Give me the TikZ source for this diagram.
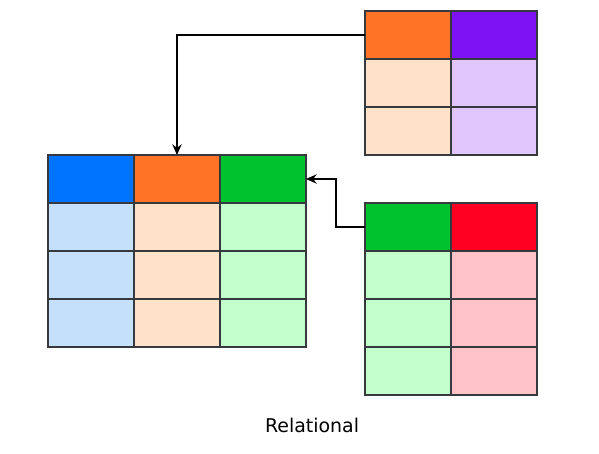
\documentclass[tikz,border=0pt]{standalone}
\usepackage{fontspec}
\setmainfont{DejaVu Sans}
\usetikzlibrary{arrows.meta}
\definecolor{cblue}{HTML}{0073FF}
\definecolor{corange}{HTML}{FF7326}
\definecolor{cgreen}{HTML}{00C22F}
\definecolor{cpurple}{HTML}{7F12F5}
\definecolor{cred}{HTML}{FF0022}
\definecolor{lblue}{HTML}{C5E0FB}
\definecolor{lorange}{HTML}{FFE2C8}
\definecolor{lgreen}{HTML}{C2FFCC}
\definecolor{lpurple}{HTML}{E0C6FB}
\definecolor{lred}{HTML}{FFC2C6}
\definecolor{edge}{HTML}{36393D}
\tikzset{
  cell/.style={draw=edge, line width=1.4pt, minimum width=86*0.75pt, minimum height=48*0.75pt, inner sep=0pt, outer sep=0pt, anchor=north west},
  link/.style={draw=black, line width=1.2pt, -{Stealth[length=8pt,width=7pt]}},
}
\begin{document}
\begin{tikzpicture}[x=0.75pt,y=-0.75pt]
\useasboundingbox (0,0) rectangle (599,453);
% left table
\foreach \c/\hc/\bc [count=\i] in {0/cblue/lblue,1/corange/lorange,2/cgreen/lgreen}{
  \node[cell, fill=\hc] (L0\i) at (48+86*\c,155) {};
  \foreach \r in {1,2,3}{
    \node[cell, fill=\bc] (L\r\i) at (48+86*\c,155+48*\r) {};
  }
}
% top right table
\foreach \c/\hc/\bc [count=\i] in {0/corange/lorange,1/cpurple/lpurple}{
  \node[cell, fill=\hc] (T0\i) at (365+86*\c,11) {};
  \foreach \r in {1,2}{
    \node[cell, fill=\bc] (T\r\i) at (365+86*\c,11+48*\r) {};
  }
}
% bottom right table
\foreach \c/\hc/\bc [count=\i] in {0/cgreen/lgreen,1/cred/lred}{
  \node[cell, fill=\hc] (B0\i) at (365+86*\c,203) {};
  \foreach \r in {1,2,3}{
    \node[cell, fill=\bc] (B\r\i) at (365+86*\c,203+48*\r) {};
  }
}
\draw[link] (T01.west) -| (L02.north);
\draw[link] (B01.west) -- ++(-29,0) |- (L03.east);
\node[font=\fontsize{14.2pt}{16pt}\selectfont] (cap) at (312,425) {Relational};
\end{tikzpicture}
\end{document}
